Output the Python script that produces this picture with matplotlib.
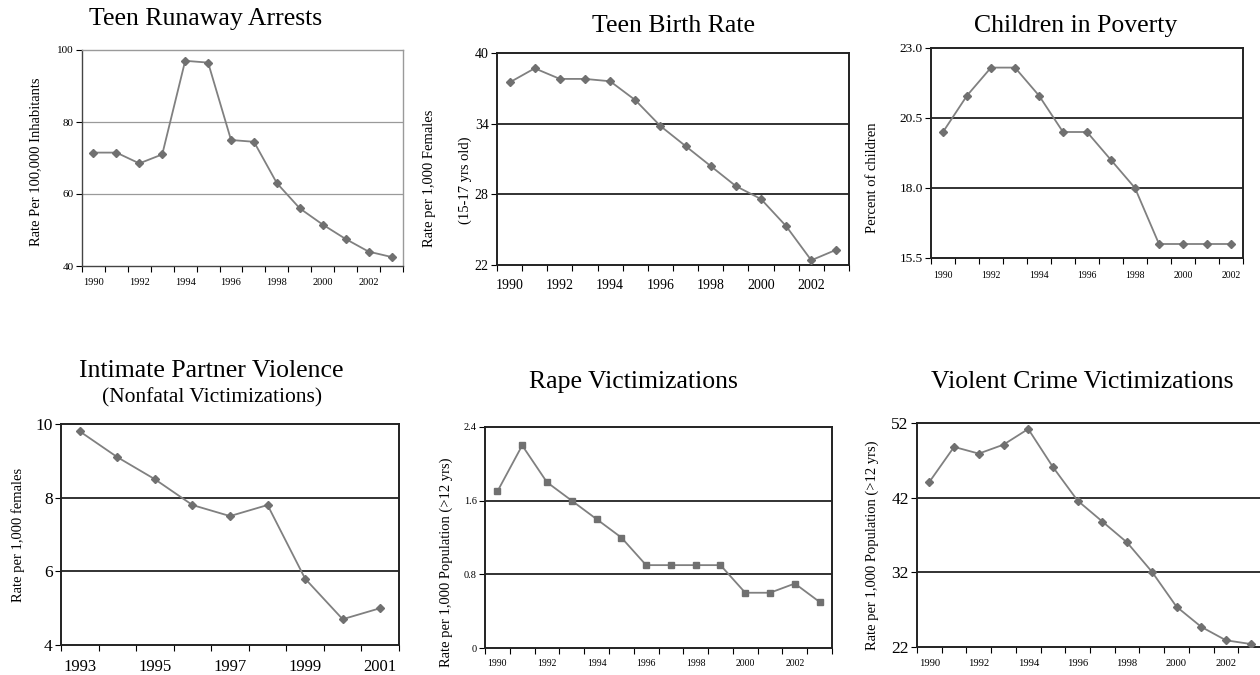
import numpy as np
import matplotlib
matplotlib.use("Agg")
import matplotlib.pyplot as plt
from matplotlib.ticker import FixedLocator, NullFormatter

plt.rcParams['font.family'] = ['Liberation Serif', 'DejaVu Serif']

W, H = 1260, 675

# data
years_runaway = list(range(1990, 2004))
runaway = [71.5, 71.5, 68.5, 71, 97, 96.5, 75, 74.5, 63, 56, 51.5, 47.5, 44, 42.5]

years_birth = list(range(1990, 2004))
birth = [37.5, 38.7, 37.8, 37.8, 37.6, 36.0, 33.8, 32.1, 30.4, 28.7, 27.6, 25.3, 22.4, 23.3]

years_poverty = list(range(1990, 2003))
poverty = [20.0, 21.3, 22.3, 22.3, 21.3, 20.0, 20.0, 19.0, 18.0, 16.0, 16.0, 16.0, 16.0]

years_ipv = list(range(1993, 2002))
ipv = [9.8, 9.1, 8.5, 7.8, 7.5, 7.8, 5.8, 4.7, 5.0]

years_rape = list(range(1990, 2004))
rape = [1.7, 2.2, 1.8, 1.6, 1.4, 1.2, 0.9, 0.9, 0.9, 0.9, 0.6, 0.6, 0.7, 0.5]

years_violent = list(range(1990, 2004))
violent = [44.1, 48.8, 47.9, 49.1, 51.2, 46.1, 41.6, 38.8, 36.0, 32.1, 27.4, 24.7, 22.9, 22.4]

fig = plt.figure(figsize=(W / 100, H / 100), dpi=100)


def px_axes(l, r, t, b):
    return fig.add_axes([l / W, 1 - b / H, (r - l) / W, (b - t) / H])


def panel(box, years, vals, yticks, ylabels, xfs, yfs, marker='D', ms=4.5,
          light=False, xpad=10):
    ax = px_axes(*box)
    n = len(years)
    x = np.arange(n)
    ax.plot(x, vals, color='#808080', lw=1.3, marker=marker, ms=ms,
            mfc='#707070', mec='#707070', zorder=3)
    ax.set_xlim(-0.5, n - 0.5)
    ax.set_ylim(yticks[0], yticks[-1])
    # ticks at category boundaries, labels at category centres
    ax.xaxis.set_major_locator(FixedLocator(np.arange(n + 1) - 0.5))
    ax.xaxis.set_major_formatter(NullFormatter())
    idx = list(range(0, n, 2))
    ax.xaxis.set_minor_locator(FixedLocator(idx))
    ax.set_xticklabels([str(years[i]) for i in idx], minor=True)
    ax.tick_params(axis='x', which='minor', length=0, labelsize=xfs, pad=xpad)
    ax.tick_params(axis='x', which='major', length=4, direction='out')
    ax.set_yticks(yticks)
    ax.set_yticklabels(ylabels)
    ax.tick_params(axis='y', length=4, direction='out', labelsize=yfs, pad=2)
    gc = '#9a9a9a' if light else '#222222'
    for y in yticks[1:-1]:
        ax.axhline(y, color=gc, lw=0.9 if light else 1.3, zorder=1)
    for s in ax.spines.values():
        s.set_linewidth(1.0 if light else 1.4)
        s.set_color('#9a9a9a' if light else '#222222')
    if light:
        ax.spines['left'].set_color('#444444')
        ax.spines['bottom'].set_color('#444444')
    return ax


def ftext(xp, yp, s, size, **kw):
    fig.text(xp / W, 1 - yp / H, s, fontsize=size, ha='center', va='center', **kw)


TS = 18.5
YL = 10.5

# Teen Runaway Arrests
panel((82, 403, 50, 266), years_runaway, runaway, [40, 60, 80, 100],
      ['40', '60', '80', '100'], 7.5, 8, light=True, xpad=9)
ftext(206, 19, 'Teen Runaway Arrests', TS)
ftext(36, 162, 'Rate Per 100,000 Inhabitants', YL, rotation=90)

# Teen Birth Rate
panel((497, 849, 53, 265), years_birth, birth, [22, 28, 34, 40],
      ['22', '28', '34', '40'], 10, 10, xpad=10)
ftext(673, 26, 'Teen Birth Rate', TS)
ftext(429, 178, 'Rate per 1,000 Females', YL, rotation=90)
ftext(465, 180, '(15-17 yrs old)', YL, rotation=90)

# Children in Poverty
panel((931, 1243, 48, 258), years_poverty, poverty, [15.5, 18.0, 20.5, 23.0],
      ['15.5', '18.0', '20.5', '23.0'], 7, 9.5, xpad=9)
ftext(1076, 26, 'Children in Poverty', TS)
ftext(873, 178, 'Percent of children', YL, rotation=90)

# Intimate Partner Violence
panel((61, 399, 424, 645), years_ipv, ipv, [4, 6, 8, 10],
      ['4', '6', '8', '10'], 12, 12.5, xpad=10)
ftext(211, 371, 'Intimate Partner Violence', TS)
ftext(212, 398, '(Nonfatal Victimizations)', 15.5)
ftext(18, 535, 'Rate per 1,000 females', YL, rotation=90)

# Rape Victimizations
panel((485, 832, 427, 648), years_rape, rape, [0, 0.8, 1.6, 2.4],
      ['0', '0.8', '1.6', '2.4'], 7, 7.5, marker='s', ms=4.5, xpad=8)
ftext(633, 382, 'Rape Victimizations', TS)
ftext(446, 562, 'Rate per 1,000 Population (>12 yrs)', YL, rotation=90)

# Violent Crime Victimizations
panel((917, 1263, 423, 647), years_violent, violent, [22, 32, 42, 52],
      ['22', '32', '42', '52'], 7.7, 12.5, xpad=9)
ftext(1082, 382, 'Violent Crime Victimizations', TS)
ftext(872, 545, 'Rate per 1,000 Population (>12 yrs)', YL, rotation=90)

fig.savefig('out.png', dpi=100)
